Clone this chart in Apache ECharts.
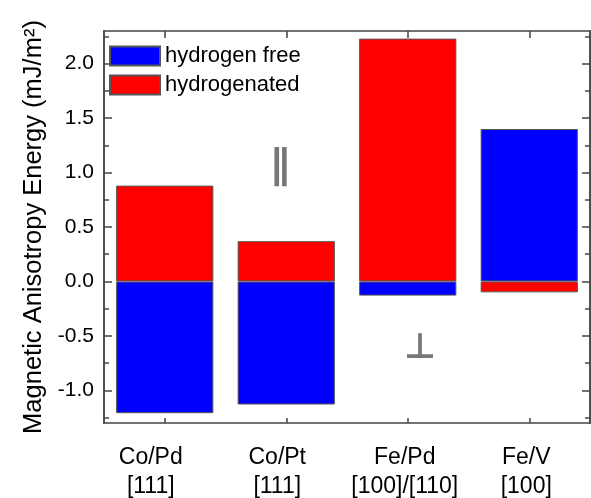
<!DOCTYPE html>
<html>
	<head>
		<meta charset="UTF-8">
		<title>Magnetic Anisotropy Energy</title>
		<style type="text/css">
			html, body {
				margin: 0;
				padding: 0;
				background: #fff;
			}
			#mae-chart {
				width: 591px;
				height: 498px;
			}
		</style>
	</head>
	<body>
		<div id="mae-chart"></div>
		<script src="https://cdn.jsdelivr.net/npm/echarts@6/dist/echarts.min.js"></script>
		<script type="text/javascript">
			// systems on the x axis
			var categories = ['Co/Pd\n[111]', 'Co/Pt\n[111]', 'Fe/Pd\n[100]/[110]', 'Fe/V\n[100]'];
			var seriesNames = ['hydrogen free', 'hydrogenated'];
			// MAE values in mJ/m^2
			var hydrogenFree = [-1.21, -1.13, -0.13, 1.40];
			var hydrogenated = [0.88, 0.37, 2.23, -0.10];
			// y ticks
			var yMajorTicks = [-1.0, -0.5, 0.0, 0.5, 1.0, 1.5, 2.0];
			var yMinorTicks = [-1.25, -0.75, -0.25, 0.25, 0.75, 1.25, 1.75, 2.25];

			var font = '"Liberation Sans", Arial, sans-serif';
			var axisColor = '#444';
			var yMin = -1.3;
			var yMax = 2.3;
			// the original labels sit a little left of their ticks (px)
			var labelShift = [14, 9, 3, 3];

			var myChart = echarts.init(document.getElementById('mae-chart'));

			function yAxisDef(pos, ticks, len, labels) {
				return {
					type: 'value',
					position: pos,
					min: yMin,
					max: yMax,
					name: labels ? 'Magnetic Anisotropy Energy (mJ/m\u00B2)' : '',
					nameLocation: 'middle',
					nameGap: 56,
					nameTextStyle: {
						fontFamily: font,
						fontSize: 25.5,
						color: '#000'
					},
					splitLine: { show: false },
					axisLine: {
						show: true,
						onZero: false,
						lineStyle: { color: axisColor, width: 1.5 }
					},
					axisTick: {
						show: true,
						inside: true,
						length: len,
						customValues: ticks,
						lineStyle: { color: axisColor, width: 1.5 }
					},
					axisLabel: {
						show: labels,
						customValues: yMajorTicks,
						margin: 10,
						fontFamily: font,
						fontSize: 21,
						color: '#000',
						formatter: function(v) {
							return v.toFixed(1);
						}
					}
				};
			}

			var richLabels = {};
			labelShift.forEach(function(d, i) {
				richLabels['s' + i] = {
					fontFamily: font,
					fontSize: 23,
					lineHeight: 29,
					color: '#000',
					padding: [0, 2 * d, 0, 0]
				};
			});

			function xAxisDef(pos, labels, len) {
				return {
					type: 'category',
					position: pos,
					data: categories,
					axisLine: {
						show: true,
						onZero: false,
						lineStyle: { color: axisColor, width: 1.5 }
					},
					axisTick: {
						show: true,
						inside: true,
						alignWithLabel: true,
						length: len,
						lineStyle: { color: axisColor, width: 1.5 }
					},
					axisLabel: {
						show: labels,
						interval: 0,
						margin: 20,
						fontFamily: font,
						fontSize: 23,
						lineHeight: 29,
						color: '#000',
						formatter: function(value, index) {
							return value.split('\n').map(function(line) {
								return '{s' + index + '|' + line + '}';
							}).join('\n');
						},
						rich: richLabels
					}
				};
			}

			option = {
				animation: false,
				backgroundColor: '#fff',
				grid: {
					left: 104,
					right: 1,
					top: 31,
					bottom: 75,
					outerBoundsMode: 'none'
				},
				legend: {
					left: 104,
					top: 40,
					orient: 'vertical',
					icon: 'rect',
					itemWidth: 50,
					itemHeight: 19,
					itemGap: 7,
					textStyle: {
						fontFamily: font,
						fontSize: 22,
						color: '#000'
					},
					data: seriesNames
				},
				xAxis: [
					xAxisDef('bottom', true, 5),
					xAxisDef('top', false, 7)
				],
				yAxis: [
					yAxisDef('left', yMajorTicks, 8, true),
					yAxisDef('left', yMinorTicks, 5, false),
					yAxisDef('right', yMajorTicks, 8, false),
					yAxisDef('right', yMinorTicks, 5, false)
				],
				graphic: [{
					type: 'text',
					x: 280,
					y: 168,
					style: {
						text: '\u2225',
						fill: '#777',
						font: 'bold 40px "DejaVu Sans"',
						align: 'center',
						verticalAlign: 'middle'
					}
				}, {
					type: 'text',
					x: 420,
					y: 349,
					style: {
						text: '\u22A5',
						fill: '#777',
						font: 'bold 35px "DejaVu Sans"',
						align: 'center',
						verticalAlign: 'middle'
					}
				}],
				series: [{
					name: seriesNames[0],
					type: 'bar',
					barWidth: '80%',
					barGap: '-100%',
					itemStyle: {
						color: '#0000ff',
						borderColor: '#555',
						borderWidth: 1
					},
					data: hydrogenFree
				}, {
					name: seriesNames[1],
					type: 'bar',
					barWidth: '80%',
					barGap: '-100%',
					itemStyle: {
						color: '#ff0000',
						borderColor: '#555',
						borderWidth: 1
					},
					data: hydrogenated
				}]
			};
			myChart.setOption(option);
		</script>
	</body>
</html>
